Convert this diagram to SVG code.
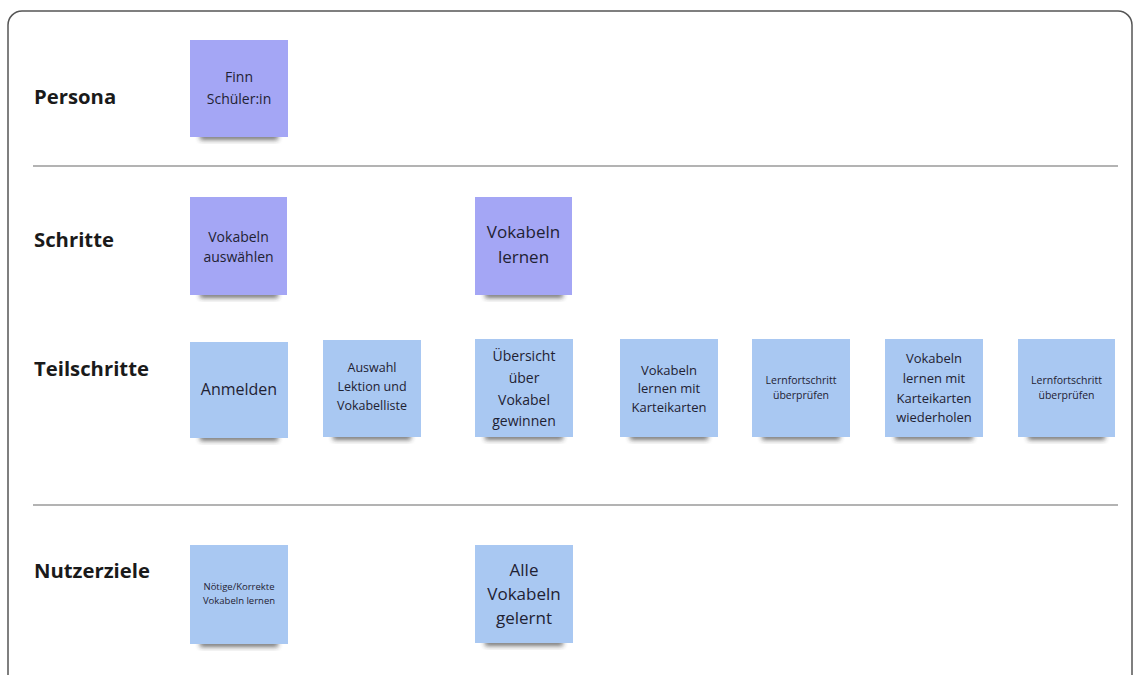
<svg xmlns="http://www.w3.org/2000/svg" width="1141" height="675" viewBox="0 0 1141 675">
<defs>
<filter id="sh" x="-20%" y="-50%" width="140%" height="200%"><feGaussianBlur stdDeviation="2.5"/></filter>
<style>
.frame{fill:#fff;stroke:#555;stroke-width:1.5}
.sep{stroke:#9a9a9a;stroke-width:1.5}
.lbl{font-family:"Open Sans","Liberation Sans",sans-serif;font-weight:700;font-size:20.3px;fill:#1a1a1a}
.t{font-family:"Open Sans","Liberation Sans",sans-serif;fill:#1f2233;text-anchor:middle}
.p{fill:#a4a6f5}
.b{fill:#a9c8f2}
.s{fill:#2a2a2a;opacity:0.65;filter:url(#sh)}
</style>
</defs>
<rect width="1141" height="675" fill="#fff"/>
<rect class="frame" x="8" y="11" width="1124" height="700" rx="14"/>
<g id="separators">
<line class="sep" x1="33" y1="166" x2="1118" y2="166"/>
<line class="sep" x1="33" y1="505" x2="1118" y2="505"/>
</g>
<g id="labels">
<text class="lbl" x="34" y="104">Persona</text>
<text class="lbl" x="34" y="247">Schritte</text>
<text class="lbl" x="34" y="376">Teilschritte</text>
<text class="lbl" x="34" y="578">Nutzerziele</text>
</g>
<g id="n-finn">
<rect class="s" x="200" y="133" width="78" height="7"/>
<rect class="p" x="190" y="40" width="98" height="97"/>
<text class="t" font-size="14" x="239" y="82">Finn</text>
<text class="t" font-size="14" x="239" y="104">Schüler:in</text>
</g>
<g id="n-vokabeln-auswaehlen">
<rect class="s" x="200" y="291" width="78" height="7"/>
<rect class="p" x="190" y="197" width="97" height="98"/>
<text class="t" font-size="14" x="238.5" y="242">Vokabeln</text>
<text class="t" font-size="14" x="238.5" y="262">auswählen</text>
</g>
<g id="n-vokabeln-lernen">
<rect class="s" x="485" y="291" width="78" height="7"/>
<rect class="p" x="475" y="197" width="97" height="98"/>
<text class="t" font-size="17" x="523.5" y="238">Vokabeln</text>
<text class="t" font-size="17" x="523.5" y="263">lernen</text>
</g>
<g id="n-anmelden">
<rect class="s" x="200" y="434" width="78" height="7"/>
<rect class="b" x="190" y="342" width="98" height="96"/>
<text class="t" font-size="16" x="239" y="395">Anmelden</text>
</g>
<g id="n-auswahl">
<rect class="s" x="333" y="433" width="78" height="7"/>
<rect class="b" x="323" y="340" width="98" height="97"/>
<text class="t" font-size="12.5" x="372" y="372">Auswahl</text>
<text class="t" font-size="12.5" x="372" y="391">Lektion und</text>
<text class="t" font-size="12.5" x="372" y="410">Vokabelliste</text>
</g>
<g id="n-uebersicht">
<rect class="s" x="485" y="433" width="78" height="7"/>
<rect class="b" x="475" y="339" width="98" height="98"/>
<text class="t" font-size="14" x="524" y="361">Übersicht</text>
<text class="t" font-size="14" x="524" y="383">über</text>
<text class="t" font-size="14" x="524" y="405">Vokabel</text>
<text class="t" font-size="14" x="524" y="426">gewinnen</text>
</g>
<g id="n-karteikarten">
<rect class="s" x="630" y="433" width="78" height="7"/>
<rect class="b" x="620" y="339" width="98" height="98"/>
<text class="t" font-size="13" x="669" y="375">Vokabeln</text>
<text class="t" font-size="13" x="669" y="393">lernen  mit</text>
<text class="t" font-size="13" x="669" y="412">Karteikarten</text>
</g>
<g id="n-lernfortschritt-1">
<rect class="s" x="762" y="433" width="78" height="7"/>
<rect class="b" x="752" y="339" width="98" height="98"/>
<text class="t" font-size="10.5" x="801" y="384">Lernfortschritt</text>
<text class="t" font-size="10.5" x="801" y="399">überprüfen</text>
</g>
<g id="n-wiederholen">
<rect class="s" x="895" y="433" width="78" height="7"/>
<rect class="b" x="885" y="339" width="98" height="98"/>
<text class="t" font-size="13" x="934" y="363">Vokabeln</text>
<text class="t" font-size="13" x="934" y="383">lernen  mit</text>
<text class="t" font-size="13" x="934" y="403">Karteikarten</text>
<text class="t" font-size="13" x="934" y="422">wiederholen</text>
</g>
<g id="n-lernfortschritt-2">
<rect class="s" x="1028" y="433" width="77" height="7"/>
<rect class="b" x="1018" y="339" width="97" height="98"/>
<text class="t" font-size="10.5" x="1066.5" y="384">Lernfortschritt</text>
<text class="t" font-size="10.5" x="1066.5" y="399">überprüfen</text>
</g>
<g id="n-noetige">
<rect class="s" x="200" y="640" width="78" height="7"/>
<rect class="b" x="190" y="545" width="98" height="99"/>
<text class="t" font-size="9.5" x="239" y="590">Nötige/Korrekte</text>
<text class="t" font-size="9.5" x="239" y="604">Vokabeln lernen</text>
</g>
<g id="n-alle">
<rect class="s" x="485" y="639" width="78" height="7"/>
<rect class="b" x="475" y="545" width="98" height="98"/>
<text class="t" font-size="17" x="524" y="576">Alle</text>
<text class="t" font-size="17" x="524" y="600">Vokabeln</text>
<text class="t" font-size="17" x="524" y="624">gelernt</text>
</g>
</svg>
